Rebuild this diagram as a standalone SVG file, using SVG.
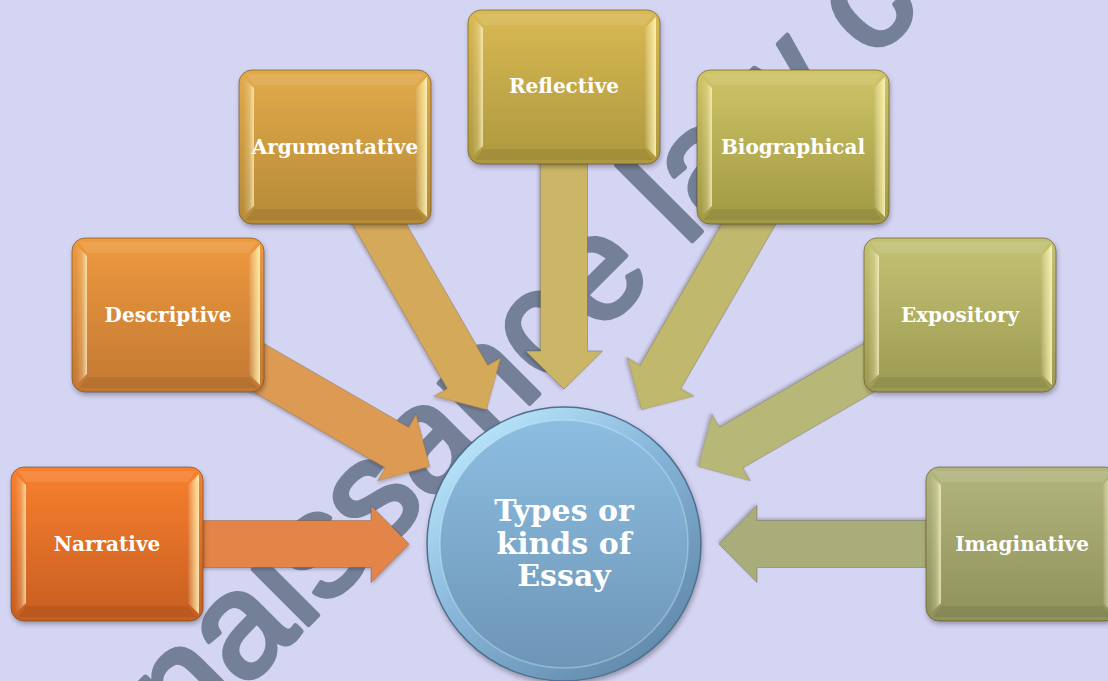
<svg xmlns="http://www.w3.org/2000/svg" width="1108" height="681" viewBox="0 0 1108 681">
  <style>
    .label { font-family: "DejaVu Serif", "Liberation Serif", serif; font-weight: bold; font-size: 20px; fill: #ffffff; text-anchor: middle; }
    .hub-label { font-family: "DejaVu Serif", "Liberation Serif", serif; font-weight: bold; font-size: 30px; fill: #ffffff; text-anchor: middle; }
    .mark { font-family: "Liberation Sans", Arial, sans-serif; font-size: 148px; fill: #748098; stroke: #748098; stroke-width: 5; stroke-linejoin: round; }
    .box-edge { fill: none; stroke: #5a4318; stroke-opacity: 0.55; stroke-width: 1; }
    .bevel-l { fill: url(#bevelLeft); }
    .bevel-r { fill: url(#bevelRight); }
    .bevel-t { fill: #ffffff; fill-opacity: 0.10; }
    .bevel-b { fill: #000000; fill-opacity: 0.07; }
    .arrow { stroke: #3a2a10; stroke-opacity: 0.25; stroke-width: 1; filter: url(#arrowShadow); }
  </style>
  <defs>
    <filter id="boxShadow" x="-10%" y="-10%" width="125%" height="130%">
      <feDropShadow dx="1" dy="3" stdDeviation="2.5" flood-color="#000" flood-opacity="0.3"/>
    </filter>
    <filter id="arrowShadow" x="-10%" y="-20%" width="120%" height="140%">
      <feDropShadow dx="1" dy="2" stdDeviation="1.5" flood-color="#000" flood-opacity="0.22"/>
    </filter>
    <linearGradient id="bevelLeft" x1="0" y1="0" x2="1" y2="0">
      <stop offset="0" stop-color="#ffffff" stop-opacity="0"/>
      <stop offset="0.55" stop-color="#fff2c0" stop-opacity="0.25"/>
      <stop offset="1" stop-color="#fff8d0" stop-opacity="0.75"/>
    </linearGradient>
    <linearGradient id="bevelRight" x1="0" y1="0" x2="1" y2="0">
      <stop offset="0" stop-color="#ffffff" stop-opacity="0.05"/>
      <stop offset="0.6" stop-color="#fff4a8" stop-opacity="0.6"/>
      <stop offset="1" stop-color="#fffbd0" stop-opacity="0.85"/>
    </linearGradient>
    <linearGradient id="gNarrative" x1="0" y1="0" x2="0" y2="1">
      <stop offset="0" stop-color="#f8802f"/><stop offset="1" stop-color="#c75e21"/>
    </linearGradient>
    <linearGradient id="gDescriptive" x1="0" y1="0" x2="0" y2="1">
      <stop offset="0" stop-color="#ee9a3e"/><stop offset="1" stop-color="#c27833"/>
    </linearGradient>
    <linearGradient id="gArgumentative" x1="0" y1="0" x2="0" y2="1">
      <stop offset="0" stop-color="#e2aa4a"/><stop offset="1" stop-color="#b58a38"/>
    </linearGradient>
    <linearGradient id="gReflective" x1="0" y1="0" x2="0" y2="1">
      <stop offset="0" stop-color="#d9b953"/><stop offset="1" stop-color="#ad983f"/>
    </linearGradient>
    <linearGradient id="gBiographical" x1="0" y1="0" x2="0" y2="1">
      <stop offset="0" stop-color="#cfc466"/><stop offset="1" stop-color="#a09844"/>
    </linearGradient>
    <linearGradient id="gExpository" x1="0" y1="0" x2="0" y2="1">
      <stop offset="0" stop-color="#c3c274"/><stop offset="1" stop-color="#9c9a52"/>
    </linearGradient>
    <linearGradient id="gImaginative" x1="0" y1="0" x2="0" y2="1">
      <stop offset="0" stop-color="#b2b67d"/><stop offset="1" stop-color="#8e925a"/>
    </linearGradient>
    <linearGradient id="hubRim" x1="0.15" y1="0.1" x2="0.85" y2="0.95">
      <stop offset="0" stop-color="#b8e4fa"/>
      <stop offset="0.45" stop-color="#86b4d8"/>
      <stop offset="1" stop-color="#5f87a8"/>
    </linearGradient>
    <linearGradient id="hubFace" x1="0" y1="0" x2="0" y2="1">
      <stop offset="0" stop-color="#8cbee2"/>
      <stop offset="1" stop-color="#6e95b6"/>
    </linearGradient>
    <!-- block arrow pointing at the hub centre, drawn with the hub centre at the origin -->
    <path id="spoke" d="M -440,-23.5 L -193,-23.5 L -193,-38.5 L -155,0 L -193,38.5 L -193,23.5 L -440,23.5 Z"/>
    <!-- bevelled tile, 192 x 154 -->
    <g id="tileBevel">
      <polygon class="bevel-l" points="4,7 15,18 15,136 4,147"/>
      <polygon class="bevel-r" points="177,18 188,7 188,147 177,136"/>
      <polygon class="bevel-t" points="7,4 185,4 177,15 15,15"/>
      <polygon class="bevel-b" points="15,139 177,139 185,150 7,150"/>
    </g>
  </defs>

  <rect width="1108" height="681" fill="#d4d4f3"/>

  <text class="mark" transform="translate(185,748) rotate(-45)">naissance law c</text>

  <g id="connectors" transform="translate(564,544)">
    <use href="#spoke" class="arrow" fill="#e3844a" transform="rotate(0)"/>
    <use href="#spoke" class="arrow" fill="#dd9a52" transform="rotate(30)"/>
    <use href="#spoke" class="arrow" fill="#d5a95a" transform="rotate(60)"/>
    <use href="#spoke" class="arrow" fill="#cbb566" transform="rotate(90)"/>
    <use href="#spoke" class="arrow" fill="#c0b86d" transform="rotate(120)"/>
    <use href="#spoke" class="arrow" fill="#b7b878" transform="rotate(150)"/>
    <use href="#spoke" class="arrow" fill="#a9ad7a" transform="rotate(180)"/>
  </g>

  <g id="node-narrative" transform="translate(11,467)">
    <rect width="192" height="154" rx="13" fill="url(#gNarrative)" filter="url(#boxShadow)"/>
    <use href="#tileBevel"/>
    <rect class="box-edge" width="192" height="154" rx="13"/>
    <text class="label" x="96" y="84">Narrative</text>
  </g>

  <g id="node-descriptive" transform="translate(72,238)">
    <rect width="192" height="154" rx="13" fill="url(#gDescriptive)" filter="url(#boxShadow)"/>
    <use href="#tileBevel"/>
    <rect class="box-edge" width="192" height="154" rx="13"/>
    <text class="label" x="96" y="84">Descriptive</text>
  </g>

  <g id="node-argumentative" transform="translate(239,70)">
    <rect width="192" height="154" rx="13" fill="url(#gArgumentative)" filter="url(#boxShadow)"/>
    <use href="#tileBevel"/>
    <rect class="box-edge" width="192" height="154" rx="13"/>
    <text class="label" x="96" y="84">Argumentative</text>
  </g>

  <g id="node-reflective" transform="translate(468,10)">
    <rect width="192" height="154" rx="13" fill="url(#gReflective)" filter="url(#boxShadow)"/>
    <use href="#tileBevel"/>
    <rect class="box-edge" width="192" height="154" rx="13"/>
    <text class="label" x="96" y="83">Reflective</text>
  </g>

  <g id="node-biographical" transform="translate(697,70)">
    <rect width="192" height="154" rx="13" fill="url(#gBiographical)" filter="url(#boxShadow)"/>
    <use href="#tileBevel"/>
    <rect class="box-edge" width="192" height="154" rx="13"/>
    <text class="label" x="96" y="84">Biographical</text>
  </g>

  <g id="node-expository" transform="translate(864,238)">
    <rect width="192" height="154" rx="13" fill="url(#gExpository)" filter="url(#boxShadow)"/>
    <use href="#tileBevel"/>
    <rect class="box-edge" width="192" height="154" rx="13"/>
    <text class="label" x="96" y="84">Expository</text>
  </g>

  <g id="node-imaginative" transform="translate(926,467)">
    <rect width="192" height="154" rx="13" fill="url(#gImaginative)" filter="url(#boxShadow)"/>
    <use href="#tileBevel"/>
    <rect class="box-edge" width="192" height="154" rx="13"/>
    <text class="label" x="96" y="84">Imaginative</text>
  </g>

  <g id="node-hub">
    <circle cx="564" cy="544" r="137" fill="url(#hubRim)" stroke="#4f6f8c" stroke-width="1.5" filter="url(#boxShadow)"/>
    <circle cx="564" cy="544" r="124" fill="url(#hubFace)"/>
    <circle cx="564" cy="544" r="124" fill="none" stroke="#d8f4ff" stroke-opacity="0.35" stroke-width="1.5"/>
    <text class="hub-label" x="564" y="521">Types or</text>
    <text class="hub-label" x="564" y="553.5">kinds of</text>
    <text class="hub-label" x="564" y="586">Essay</text>
  </g>
</svg>
